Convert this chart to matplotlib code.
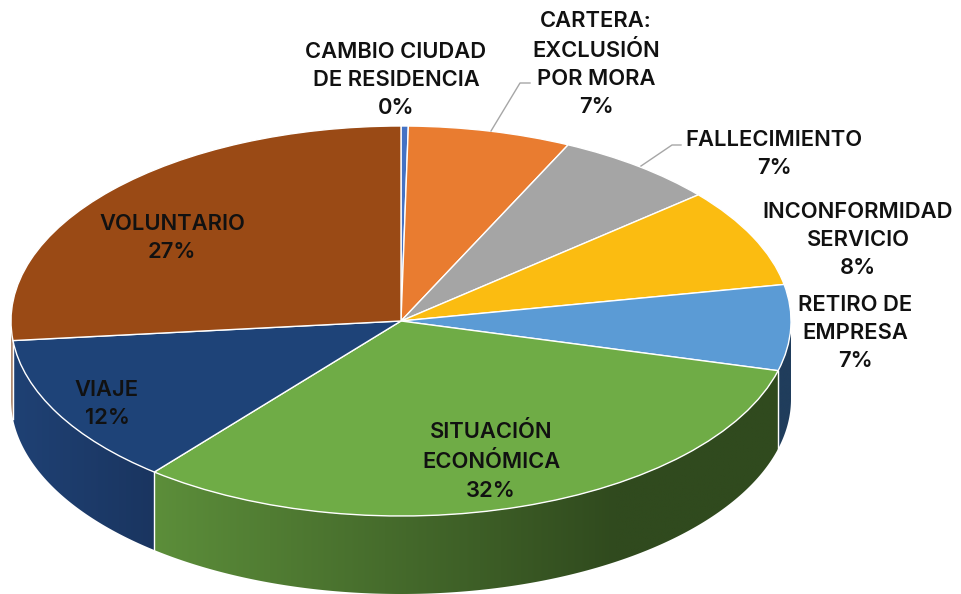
import matplotlib
matplotlib.use("Agg")
import matplotlib.pyplot as plt
from matplotlib.colors import to_rgb
from matplotlib.lines import Line2D
from matplotlib.patches import Polygon
import numpy as np

valores = [0.3, 6.75, 6.75, 8.2, 7.1, 31.8, 12.5, 26.6]
nombres = ["CAMBIO CIUDAD\nDE RESIDENCIA", "CARTERA:\nEXCLUSIÓN\nPOR MORA", "FALLECIMIENTO",
           "INCONFORMIDAD\nSERVICIO", "RETIRO DE\nEMPRESA", "SITUACIÓN\nECONÓMICA", "VIAJE", "VOLUNTARIO"]
etiquetas_pct = ["0%", "7%", "7%", "8%", "7%", "32%", "12%", "27%"]
colores = ["#4472C4", "#E97C30", "#A5A5A5", "#FBBC11", "#5B9BD5", "#6FAC46", "#1E4378", "#9A4A15"]
# color del lateral: (izquierda, derecha)
lateral = {4: ("#203D5C", "#203D5C"), 5: ("#5C8E3A", "#304A1E"), 6: ("#1F4174", "#1A3560"),
           7: ("#B08A70", "#B08A70")}
pos_texto = [(396, 80), (596, 64), (774, 154), (858, 240), (855, 333), (491, 461), (107, 404), (172, 238)]

W, H = 961, 594
fig = plt.figure(figsize=(W / 100, H / 100), dpi=100)
plt.rcParams['font.family'] = ['Inter', 'DejaVu Sans']

# elipse superior: x 11-791, y 126-516; el eje baja hasta el borde para el lateral
fondo = 0.40
ymin = -1 - 78 / 195
ax = fig.add_axes([11 / W, 0, 780 / W, (516 - 126 + 78) / H])
ax.pie(valores, colors=colores, startangle=90, counterclock=False, radius=1,
       wedgeprops=dict(edgecolor="white", linewidth=1.0, zorder=3, clip_on=False))

# lateral del pastel: degradado recortado a cada porcion
lim = 90 - np.cumsum([0] + valores) * 3.6
for i in lateral:
    a = np.radians(np.arange(lim[i], lim[i + 1] - 0.25, -0.25))
    a = a[np.sin(a) <= 0.001]
    xs, ys = np.cos(a), np.sin(a)
    x0, x1 = xs.min(), xs.max()
    c0, c1 = np.array(to_rgb(lateral[i][0])), np.array(to_rgb(lateral[i][1]))
    t = np.clip(np.linspace(0, 1, 256) * (1.35 if i == 5 else 1), 0, 1)[None, :, None]
    img = c0 + (c1 - c0) * t
    y0 = ys.min() - fondo
    im = ax.imshow(img, extent=(x0, x1, y0, ys.max()), aspect="auto", zorder=1,
                   interpolation="bilinear")
    poly = Polygon(np.column_stack([np.r_[xs, xs[::-1]], np.r_[ys, ys[::-1] - fondo]]),
                   closed=True, transform=ax.transData, fc="none", ec="none")
    ax.add_patch(poly)
    im.set_clip_path(poly)
    # linea blanca entre porciones
    if i > 4:
        ax.plot([xs[0], xs[0]], [ys[0], ys[0] - fondo], color="white", lw=1.0,
                clip_on=False, zorder=2)

ax.set_aspect("auto")
ax.set_xlim(-1, 1)
ax.set_ylim(ymin, 1)

# textos
for n, p, (x, y) in zip(nombres, etiquetas_pct, pos_texto):
    fig.text(x / W, 1 - y / H, n + "\n" + p, ha="center", va="center", fontsize=15.8,
             fontweight="semibold", color="#111111", linespacing=1.52, multialignment="center")

# lineas guia
guias = [([491, 520, 530], [131, 83, 83]), ([641, 672, 681], [166, 145, 145])]
for gx, gy in guias:
    fig.add_artist(Line2D([v / W for v in gx], [1 - v / H for v in gy], color="#A6A6A6", lw=1.0))

fig.savefig("out.png", dpi=100)
